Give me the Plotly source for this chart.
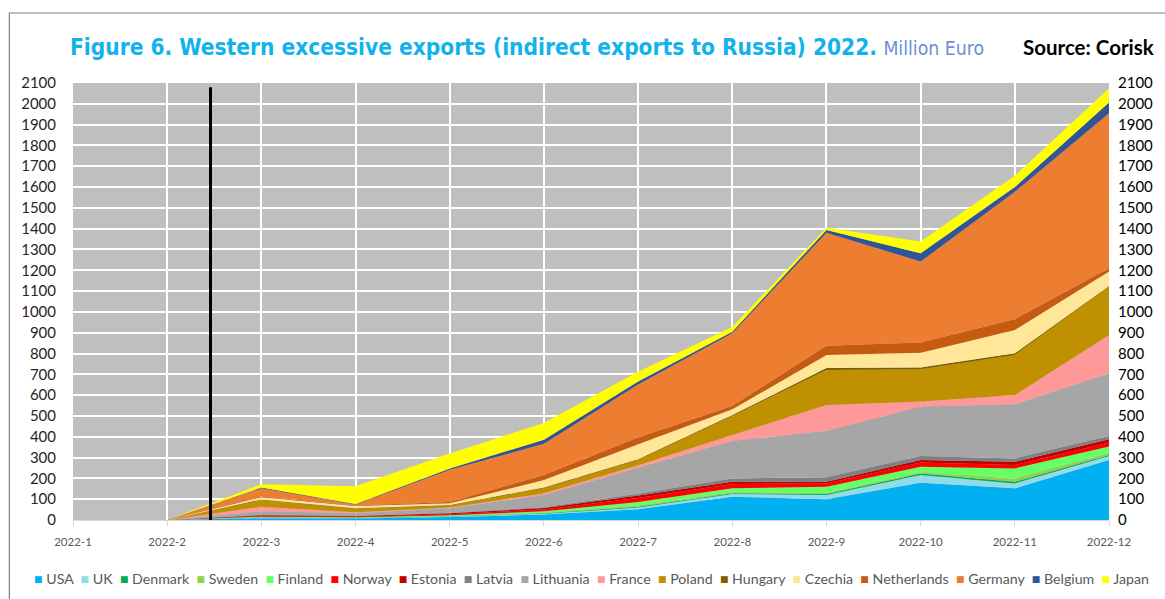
import plotly.graph_objects as go

# Monthly indirect exports to Russia, million euro
months = ["2022-1", "2022-2", "2022-3", "2022-4", "2022-5", "2022-6",
          "2022-7", "2022-8", "2022-9", "2022-10", "2022-11", "2022-12"]

usa = [0, 0, 9, 7, 14, 26, 52, 112, 100, 179, 152, 288]
uk = [0, 0, 3, 2, 3, 4, 8, 13, 20, 37, 24, 20]
denmark = [0, 0, 1, 1, 1, 2, 4, 3, 5, 8, 8, 4]
sweden = [0, 0, 1, 1, 1, 2, 4, 5, 3, 5, 16, 9]
finland = [0, 0, 2, 2, 4, 8, 18, 19, 32, 27, 48, 32]
norway = [0, 0, 3, 3, 5, 8, 20, 21, 16, 20, 16, 19]
estonia = [0, 0, 4, 3, 4, 8, 12, 11, 8, 12, 16, 16]
latvia = [0, 0, 3, 2, 3, 3, 8, 16, 21, 20, 16, 16]
lithuania = [0, 0, 16, 12, 22, 59, 125, 180, 224, 237, 260, 301]
france = [0, 0, 22, 4, 3, 8, 12, 29, 124, 24, 45, 184]
poland = [0, 0, 32, 17, 10, 24, 25, 91, 168, 155, 192, 233]
hungary = [0, 0, 3, 3, 2, 4, 4, 5, 9, 9, 8, 3]
czechia = [0, 0, 10, 10, 8, 36, 72, 27, 63, 71, 112, 69]
netherlands = [0, 0, 4, 3, 6, 24, 32, 16, 44, 49, 52, 16]
germany = [0, 0, 40, 5, 155, 150, 255, 349, 543, 389, 613, 745]
belgium = [0, 0, 3, 2, 7, 20, 14, 8, 14, 40, 22, 51]
japan = [0, 0, 16, 85, 72, 80, 48, 22, 11, 56, 54, 69]

series = [
    ("USA", usa, "#00B0F0"),
    ("UK", uk, "#92DCEA"),
    ("Denmark", denmark, "#00B050"),
    ("Sweden", sweden, "#92D050"),
    ("Finland", finland, "#66FF66"),
    ("Norway", norway, "#FF0000"),
    ("Estonia", estonia, "#C00000"),
    ("Latvia", latvia, "#808080"),
    ("Lithuania", lithuania, "#A6A6A6"),
    ("France", france, "#FF9999"),
    ("Poland", poland, "#BF9000"),
    ("Hungary", hungary, "#7F6000"),
    ("Czechia", czechia, "#FFE699"),
    ("Netherlands", netherlands, "#C55A11"),
    ("Germany", germany, "#ED7D31"),
    ("Belgium", belgium, "#2F5597"),
    ("Japan", japan, "#FFFF00"),
]

# Position of the start-of-war marker on the month axis (category index)
war_start_pos = 1.46

fig = go.Figure()
for name, vals, color in series:
    fig.add_trace(go.Scatter(
        x=months, y=vals, name=name, mode="none",
        stackgroup="exports", fillcolor=color, showlegend=False,
        hovertemplate=name + ": %{y}<extra></extra>",
    ))

W, H = 1165, 599
ml, mr, mt, mb = 73, 50, 83, 79
pw, ph = W - ml - mr, H - mt - mb


def px(xp):
    return (xp - ml) / pw


def py(yp):
    return (H - mb - yp) / ph


tick_font = dict(family="Lato, Carlito, sans-serif", size=15, color="#262626")

fig.update_layout(
    width=W, height=H,
    margin=dict(l=ml, r=mr, t=mt, b=mb),
    paper_bgcolor="white",
    plot_bgcolor="#BFBFBF",
    xaxis=dict(
        type="category", range=[0, 11],
        showgrid=True, gridcolor="white", gridwidth=1.5,
        ticks="outside", ticklen=5, tickcolor="#D9D9D9",
        showline=True, linecolor="#D9D9D9",
        tickfont=dict(family="Lato, sans-serif", size=11.5, color="#595959"),
        ticklabelstandoff=6,
    ),
    yaxis=dict(
        range=[0, 2100], dtick=100, tick0=0,
        showgrid=True, gridcolor="white", gridwidth=1.5,
        zeroline=False, tickfont=tick_font, ticklabelstandoff=16,
    ),
    yaxis2=dict(
        range=[0, 2100], dtick=100, tick0=0, overlaying="y", side="right",
        showgrid=False, zeroline=False,
        tickfont=dict(family="Lato, Carlito, sans-serif", size=15, color="black"),
        ticklabelstandoff=8,
    ),
    showlegend=False,
)

# Outer frame
fig.add_shape(type="rect", xref="paper", yref="paper",
              x0=px(9), x1=px(1175), y0=py(610), y1=py(13),
              line=dict(color="#7F7F7F", width=1.2), fillcolor="rgba(0,0,0,0)",
              layer="below")

# Start-of-war marker
fig.add_shape(type="line", xref="x", yref="y",
              x0=war_start_pos, x1=war_start_pos, y0=0, y1=2080,
              line=dict(color="black", width=3))

# Title
fig.add_annotation(
    xref="paper", yref="paper", x=px(68), y=py(47),
    xanchor="left", yanchor="middle", showarrow=False,
    text=("<b>Figure 6. Western excessive exports (indirect exports to Russia) 2022.</b> "
          "<span style='font-size:19.3px;color:#6A8FD6'>Million Euro</span>"),
    font=dict(family="Liberation Sans Narrow, DejaVu Sans Condensed, sans-serif",
              size=22.5, color="#12B2EC"),
)
fig.add_annotation(
    xref="paper", yref="paper", x=px(1162), y=py(47),
    xanchor="right", yanchor="middle", showarrow=False,
    text="<b>Source: Corisk</b>",
    font=dict(family="Lato, sans-serif", size=20.5, color="black"),
)

# Legend row
legend_text = "  ".join(
    f"<span style='color:{c}'>■</span> {n}" for n, _, c in series
)
fig.add_annotation(
    xref="paper", yref="paper", x=px(595), y=py(578),
    xanchor="center", yanchor="middle", showarrow=False,
    text=legend_text,
    font=dict(family="Lato, sans-serif", size=14.2, color="#595959"),
)

# Keep the right axis drawn with no trace of its own
fig.add_trace(go.Scatter(x=[months[0]], y=[0], yaxis="y2", mode="none",
                         showlegend=False, hoverinfo="skip"))

fig.write_html("out.html")
